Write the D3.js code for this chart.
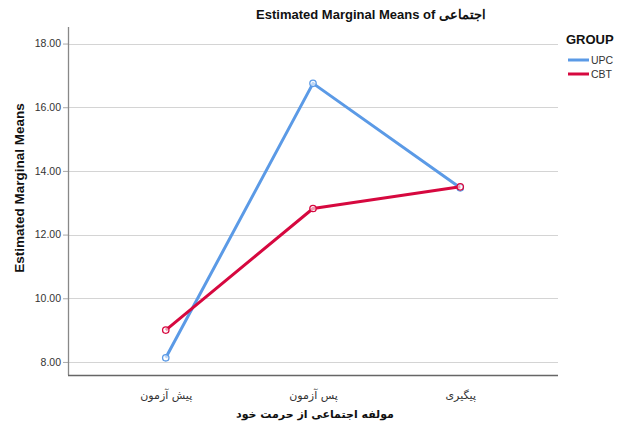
<!DOCTYPE html>
<html>
<head>
<meta charset="utf-8">
<script src="https://cdn.jsdelivr.net/npm/d3@7"></script>
<style>
  body { margin: 0; background: #fff; }
  svg { display: block; font-family: "Liberation Sans", Arial, sans-serif; }
</style>
</head>
<body>
<svg id="chart" width="618" height="427"></svg>
<script>
// ── Data ──────────────────────────────────────────────────────────────────────
const categories = ['پیش آزمون', 'پس آزمون', 'پیگیری']
const groups     = ['UPC', 'CBT']
const upcValues  = [8.13, 16.75, 13.47]
const cbtValues  = [9.00, 12.82, 13.50]
const yTicks     = [8, 10, 12, 14, 16, 18]
const colors     = ['#5B9AE6', '#D6083F']

const series = [
  { name: groups[0], values: upcValues, color: colors[0] },
  { name: groups[1], values: cbtValues, color: colors[1] },
]

// ── Layout ────────────────────────────────────────────────────────────────────
const plot = { left: 68, right: 558, top: 27, bottom: 375 }
const svg = d3.select('#chart')

const x = d3.scalePoint()
  .domain(categories)
  .range([plot.left, plot.right])
  .padding(0.664)

const y = d3.scaleLinear()
  .domain([7.59, 18.52])
  .range([plot.bottom, plot.top])

// ── Grid ──────────────────────────────────────────────────────────────────────
svg.append('g')
  .selectAll('line')
  .data(yTicks)
  .join('line')
  .attr('x1', plot.left).attr('x2', plot.right)
  .attr('y1', d => Math.round(y(d)) + 0.5).attr('y2', d => Math.round(y(d)) + 0.5)
  .attr('stroke', '#d4d4d4')
  .attr('stroke-width', 1)

// ── Axes ──────────────────────────────────────────────────────────────────────
const yAxis = svg.append('g')
  .attr('transform', `translate(${plot.left},0)`)
  .call(d3.axisLeft(y).tickValues(yTicks).tickFormat(d3.format('.2f')).tickSize(5).tickPadding(2))
yAxis.select('.domain').remove()
yAxis.selectAll('.tick line').attr('stroke', '#aaa')
yAxis.selectAll('.tick text')
  .attr('fill', '#333')
  .attr('font-size', '10.5px')
  .attr('font-family', '"Liberation Sans", Arial, sans-serif')

svg.append('line')
  .attr('x1', plot.left + 0.5).attr('x2', plot.left + 0.5)
  .attr('y1', plot.top).attr('y2', plot.bottom)
  .attr('stroke', '#888').attr('stroke-width', 1.3)

const xAxis = svg.append('g')
  .attr('transform', `translate(0,${plot.bottom})`)
  .call(d3.axisBottom(x).tickSize(0).tickPadding(16))
xAxis.select('.domain').remove()
xAxis.selectAll('.tick text')
  .attr('fill', '#333')
  .attr('font-size', '11px')
  .attr('font-family', '"DejaVu Sans", "Liberation Sans", sans-serif')

svg.append('line')
  .attr('x1', plot.left).attr('x2', plot.right)
  .attr('y1', plot.bottom + 0.5).attr('y2', plot.bottom + 0.5)
  .attr('stroke', '#666').attr('stroke-width', 1.5)

// ── Lines & markers ───────────────────────────────────────────────────────────
const line = d3.line()
  .x((d, i) => x(categories[i]))
  .y(d => y(d))

const sg = svg.append('g')
  .selectAll('g')
  .data(series)
  .join('g')

sg.append('path')
  .attr('d', d => line(d.values))
  .attr('fill', 'none')
  .attr('stroke', d => d.color)
  .attr('stroke-width', 3)
  .attr('stroke-linejoin', 'round')

sg.selectAll('circle')
  .data(d => d.values.map((v, i) => ({ v, i, color: d.color })))
  .join('circle')
  .attr('cx', d => x(categories[d.i]))
  .attr('cy', d => y(d.v))
  .attr('r', 3.2)
  .attr('fill', '#fff')
  .attr('fill-opacity', 0.6)
  .attr('stroke', d => d.color)
  .attr('stroke-width', 1.3)

// ── Titles ────────────────────────────────────────────────────────────────────
svg.append('text')
  .attr('x', 371).attr('y', 19)
  .attr('text-anchor', 'middle')
  .attr('font-size', '13px').attr('font-weight', 'bold')
  .attr('fill', '#111')
  .text('Estimated Marginal Means of \u2066اجتماعی\u2069')

svg.append('text')
  .attr('transform', 'translate(24,188) rotate(-90)')
  .attr('text-anchor', 'middle')
  .attr('font-size', '13.5px').attr('font-weight', 'bold')
  .attr('fill', '#111')
  .text('Estimated Marginal Means')

svg.append('text')
  .attr('x', 315).attr('y', 418)
  .attr('text-anchor', 'middle')
  .attr('font-size', '11px').attr('font-weight', 'bold')
  .attr('font-family', '"DejaVu Sans", "Liberation Sans", sans-serif')
  .attr('fill', '#111')
  .text('مولفه اجتماعی از حرمت خود')

// ── Legend ────────────────────────────────────────────────────────────────────
svg.append('text')
  .attr('x', 566).attr('y', 44)
  .attr('font-size', '13px').attr('font-weight', 'bold')
  .attr('fill', '#111')
  .text('GROUP')

const lg = svg.append('g')
  .selectAll('g')
  .data(series)
  .join('g')
  .attr('transform', (d, i) => `translate(568,${60 + i * 14})`)

lg.append('line')
  .attr('x1', 0).attr('x2', 21)
  .attr('stroke', d => d.color)
  .attr('stroke-width', 3)

lg.append('text')
  .attr('x', 23).attr('y', 4)
  .attr('font-size', '10.5px')
  .attr('fill', '#333')
  .text(d => d.name)
</script>
</body>
</html>
